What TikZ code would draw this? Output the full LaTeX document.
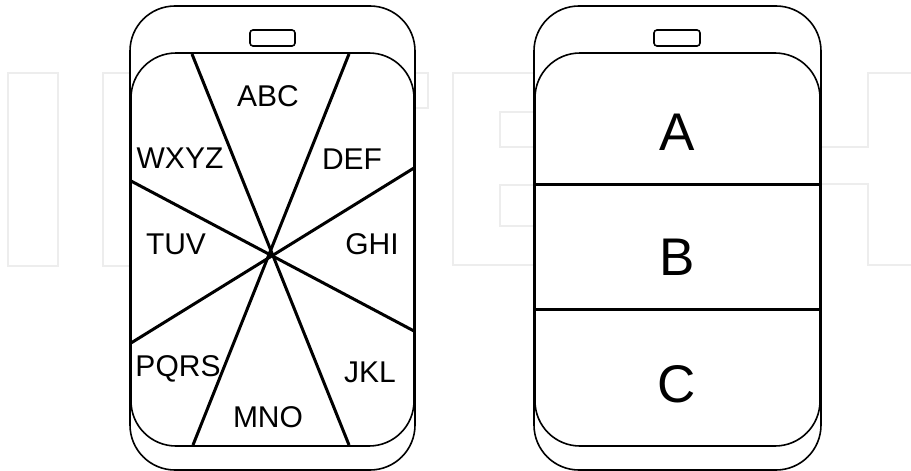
\documentclass[tikz,border=0pt]{standalone}
\usepackage{fontspec}
\setmainfont{Liberation Sans}
\begin{document}
\begin{tikzpicture}[x=1pt,y=-1pt,
  wm/.style={draw=black!7,line width=1.4pt},
  body/.style={draw=black,line width=1.6pt,fill=white,rounded corners=45pt},
  screen/.style={draw=black,line width=1.6pt,fill=white,rounded corners=45pt},
  speaker/.style={draw=black,line width=1.6pt,rounded corners=3pt},
  divider/.style={draw=black,line width=3pt},
  small/.style={font=\fontsize{30}{36}\selectfont,inner sep=0pt},
  big/.style={font=\fontsize{53}{60}\selectfont,inner sep=0pt}]
\useasboundingbox (0,0) rectangle (911,471);
% faint watermark
\draw[wm] (8,73) rectangle (58,266);
\draw[wm] (140,73) -- (103,73) -- (103,266) -- (140,266);
\draw[wm] (410,73) -- (428,73) -- (428,108) -- (410,108);
\draw[wm] (540,73) -- (453,73) -- (453,265) -- (540,265);
\draw[wm] (540,112) -- (500,112) -- (500,147) -- (540,147);
\draw[wm] (540,185) -- (500,185) -- (500,226) -- (540,226);
\draw[wm] (815,147) -- (868,147) -- (868,73) -- (911,73);
\draw[wm] (815,184) -- (868,184) -- (868,265) -- (911,265);
% left phone
\draw[body] (130,6) rectangle (415,470);
\draw[speaker] (250,30) rectangle (295,46);
\draw[screen] (131,53) rectangle (414,446);
\coordinate (t1) at (192,54);
\coordinate (t2) at (349,54);
\coordinate (b1) at (193,445);
\coordinate (b2) at (349,445);
\coordinate (l1) at (131,181);
\coordinate (l2) at (131,343);
\coordinate (r1) at (414,168);
\coordinate (r2) at (414,331);
\draw[divider] (t1) -- (b2);
\draw[divider] (t2) -- (b1);
\draw[divider] (l1) -- (r2);
\draw[divider] (l2) -- (r1);
\node[small] (abc) at (268,96) {ABC};
\node[small] (wxyz) at (180,158) {WXYZ};
\node[small] (def) at (352,159) {DEF};
\node[small] (tuv) at (176,244) {TUV};
\node[small] (ghi) at (372,244) {GHI};
\node[small] (pqrs) at (178,369) {PQRS};
\node[small] (jkl) at (370,372) {JKL};
\node[small] (mno) at (268,417) {MNO};
% right phone
\draw[body] (534,6) rectangle (821,470);
\draw[speaker] (654,30) rectangle (700,46);
\draw[screen] (535,53) rectangle (820,446);
\coordinate (d1l) at (535,184);
\coordinate (d1r) at (820,184);
\coordinate (d2l) at (535,309);
\coordinate (d2r) at (820,309);
\draw[divider] (d1l) -- (d1r);
\draw[divider] (d2l) -- (d2r);
\node[big] (ka) at (677,132) {A};
\node[big] (kb) at (677,257) {B};
\node[big] (kc) at (677,384) {C};
\end{tikzpicture}
\end{document}
